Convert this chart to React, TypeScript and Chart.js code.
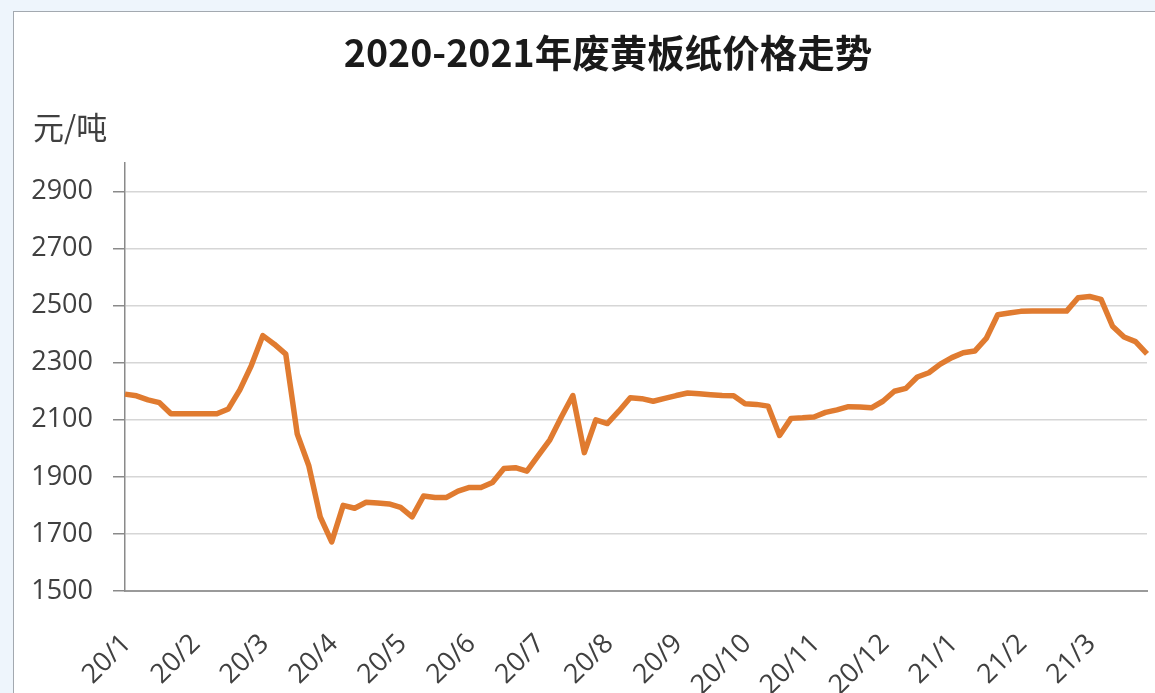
import { useEffect, useRef } from 'react'
import { Chart, registerables } from 'chart.js'

Chart.register(...registerables)

const title = '2020-2021年废黄板纸价格走势'
const unit = '元/吨'

// month labels on the x axis, 6 readings per month
const months = ['20/1', '20/2', '20/3', '20/4', '20/5', '20/6', '20/7', '20/8', '20/9', '20/10', '20/11', '20/12', '21/1', '21/2', '21/3']
const perMonth = 6

// price, yuan per ton
const prices = [
  2190, 2184, 2170, 2160, 2121, 2121,
  2121, 2121, 2121, 2138, 2205, 2290,
  2395, 2365, 2330, 2050, 1940, 1760,
  1672, 1800, 1790, 1811, 1808, 1805,
  1793, 1760, 1833, 1828, 1828, 1850,
  1863, 1863, 1880, 1929, 1932, 1920,
  1975, 2030, 2110, 2185, 1985, 2100,
  2087, 2130, 2177, 2174, 2165, 2175,
  2185, 2194, 2191, 2188, 2185, 2184,
  2156, 2154, 2148, 2045, 2105, 2107,
  2110, 2126, 2135, 2146, 2145, 2142,
  2165, 2200, 2210, 2250, 2265, 2295,
  2318, 2335, 2341, 2385, 2468, 2474,
  2480, 2481, 2481, 2481, 2481, 2528,
  2532, 2522, 2428, 2390, 2374, 2331,
]

const yTicks = [1500, 1700, 1900, 2100, 2300, 2500, 2700, 2900]
const yMin = 1500
const yMax = 3000

const labels = prices.map((_, i) => (i % perMonth === 0 ? months[i / perMonth] : ''))

// title and unit drawn above the plot, title centred a bit right of the canvas middle
const headings = {
  id: 'headings',
  afterDraw(chart: Chart) {
    const { ctx, chartArea } = chart
    ctx.save()
    ctx.textBaseline = 'middle'

    ctx.font = 'bold 37.5px "Noto Sans CJK SC"'
    ctx.fillStyle = '#1a1a1a'
    ctx.textAlign = 'center'
    ctx.fillText(title, (chart.width + 47) / 2, 41)

    ctx.font = '31px "Noto Sans CJK SC"'
    ctx.fillStyle = '#404040'
    ctx.textAlign = 'left'
    ctx.fillText(unit, chartArea.left - 92, chartArea.top - 36)
    ctx.restore()
  },
}

export default function App() {
  const chartRef = useRef<HTMLCanvasElement>(null)
  const chartInstance = useRef<Chart | null>(null)

  useEffect(() => {
    if (!chartRef.current) return
    const ctx = chartRef.current.getContext('2d')
    if (!ctx) return

    chartInstance.current = new Chart(ctx, {
      type: 'line',
      data: {
        labels,
        datasets: [
          {
            label: '价格',
            data: prices,
            borderColor: '#E07B30',
            borderWidth: 5.5,
            pointRadius: 0,
            tension: 0,
            fill: false,
            borderJoinStyle: 'round',
          },
        ],
      },
      plugins: [headings],
      options: {
        responsive: false,
        animation: false,
        layout: {
          padding: { left: 0, right: 8, top: 151, bottom: 0 },
        },
        scales: {
          x: {
            grid: { display: false },
            border: { display: true, color: '#9a9a9a', width: 2 },
            ticks: {
              autoSkip: false,
              maxRotation: 45,
              minRotation: 45,
              padding: 29,
              labelOffset: 2,
              color: '#404040',
              font: { family: '"Open Sans"', size: 27 },
            },
            afterFit: (scale) => {
              scale.height = 102
              scale.paddingLeft = 0
              scale.paddingRight = 0
            },
          },
          y: {
            min: yMin,
            max: yMax,
            afterBuildTicks: (axis) => {
              axis.ticks = yTicks.map((v) => ({ value: v }))
            },
            grid: {
              color: '#d6d6d6',
              lineWidth: 1.5,
              tickColor: '#8a8a8a',
              tickLength: 12,
            },
            border: { display: true, color: '#8a8a8a', width: 1.5 },
            ticks: {
              padding: 20,
              color: '#404040',
              font: { family: '"Open Sans"', size: 27 },
              callback: (value) => String(value),
            },
            afterFit: (scale) => {
              scale.width = 111
            },
          },
        },
        plugins: {
          legend: { display: false },
          tooltip: { enabled: false },
          title: { display: false },
        },
      },
    })

    return () => {
      if (chartInstance.current) {
        chartInstance.current.destroy()
        chartInstance.current = null
      }
    }
  }, [])

  return (
    <div style={{ position: 'fixed', inset: 0, background: '#EEF5FC', overflow: 'hidden' }}>
      <div
        style={{
          position: 'absolute',
          left: 13,
          top: 11,
          width: 1170,
          height: 720,
          background: '#ffffff',
          border: '1px solid #a3a9b0',
        }}
      >
        <canvas ref={chartRef} width={1141} height={681} style={{ display: 'block' }} />
      </div>
    </div>
  )
}
